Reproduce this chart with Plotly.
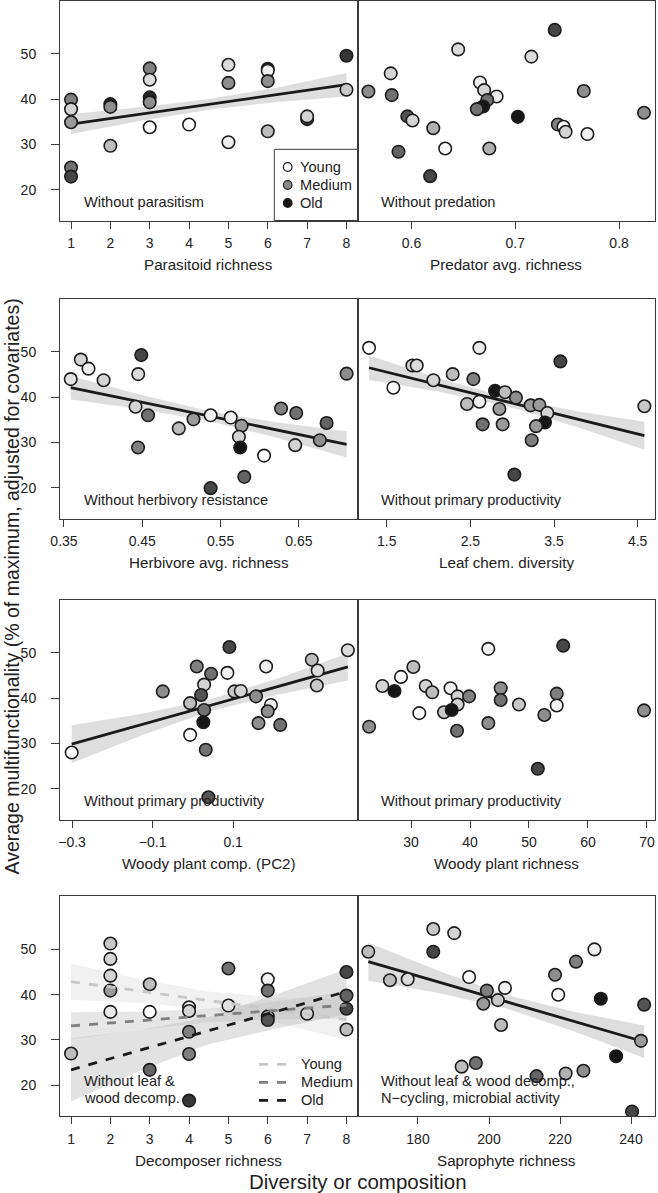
import plotly.graph_objects as go

W, H = 658, 1193

# ---------------- DATA ----------------
# Panel 1: Parasitoid richness
para_x = [1, 1, 1, 1, 1, 2, 2, 2, 3, 3, 3, 3, 3, 4, 5, 5, 5, 6, 6, 6, 6, 7, 7, 8, 8]
para_y = [39.9, 37.8, 34.9, 24.9, 22.9, 38.9, 38.3, 29.7, 46.8, 44.3, 40.4, 39.3, 33.8, 34.4,
          47.6, 43.6, 30.5, 46.7, 46.3, 44.0, 32.9, 35.6, 36.2, 49.6, 42.1]
para_age = [0.65, 0.3, 0.55, 0.7, 0.85, 0.95, 0.6, 0.4, 0.65, 0.25, 0.95, 0.6, 0.0, 0.0,
            0.25, 0.6, 0.12, 0.9, 0.1, 0.6, 0.4, 0.9, 0.3, 0.9, 0.35]
para_fit_x = [1, 8]
para_fit_y = [34.5, 43.2]
para_band_x = [1, 2.75, 4.5, 6.25, 8]
para_band_lo = [32.3, 35.2, 37.65, 39.4, 40.6]
para_band_hi = [36.7, 38.2, 40.05, 42.6, 45.8]

# Panel 2: Predator avg. richness
pred_x = [0.5585, 0.580, 0.581, 0.645, 0.596, 0.601, 0.621, 0.5875, 0.6325, 0.618, 0.675, 0.7155, 0.738,
          0.666, 0.670, 0.682, 0.673, 0.669, 0.663, 0.7025, 0.766, 0.741, 0.7465, 0.7485, 0.7695, 0.824]
pred_y = [41.7, 45.7, 40.9, 51.0, 36.2, 35.3, 33.6, 28.4, 29.1, 23.0, 29.1, 49.4, 55.3,
          43.7, 42.0, 40.6, 39.8, 38.4, 37.8, 36.1, 41.8, 34.4, 33.9, 32.8, 32.3, 37.0]
pred_age = [0.6, 0.3, 0.7, 0.25, 0.8, 0.3, 0.45, 0.75, 0.0, 0.85, 0.45, 0.25, 0.85,
            0.12, 0.3, 0.12, 0.7, 1.0, 0.7, 1.0, 0.6, 0.65, 0.0, 0.3, 0.1, 0.6]

# Panel 3: Herbivore avg. richness
herb_x = [0.3586, 0.3715, 0.3813, 0.4006, 0.4487, 0.4448, 0.4414, 0.4573, 0.4446, 0.4966, 0.5154, 0.5373,
          0.563, 0.5768, 0.5734, 0.5751, 0.6056, 0.5803, 0.5373, 0.6273, 0.6466, 0.6453, 0.6768, 0.6854, 0.711]
herb_y = [44.0, 48.3, 46.3, 43.75, 49.3, 45.1, 37.9, 36.0, 28.9, 33.1, 35.1, 36.0,
          35.5, 33.7, 31.25, 28.9, 27.1, 22.4, 19.9, 37.5, 36.5, 29.4, 30.5, 34.3, 45.2]
herb_age = [0.2, 0.3, 0.1, 0.3, 0.85, 0.25, 0.3, 0.7, 0.65, 0.4, 0.55, 0.1,
            0.1, 0.55, 0.3, 1.0, 0.0, 0.75, 0.85, 0.65, 0.7, 0.3, 0.6, 0.75, 0.6]
herb_fit_x = [0.3586, 0.711]
herb_fit_y = [42.1, 29.6]
herb_band_x = [0.3586, 0.4467, 0.5348, 0.6229, 0.711]
herb_band_lo = [39.5, 37.4, 34.75, 31.0, 26.7]
herb_band_hi = [44.7, 40.6, 36.95, 34.4, 32.5]

# Panel 4: Leaf chem. diversity
leaf_x = [1.289, 1.58, 1.807, 1.859, 2.058, 2.289, 2.608, 2.536, 2.46, 2.608, 2.795, 2.914, 2.847,
          2.647, 2.886, 3.045, 3.221, 3.325, 3.42, 3.392, 3.285, 3.233, 3.026, 3.576, 4.58]
leaf_y = [50.9, 42.1, 47.0, 47.0, 43.75, 45.1, 50.9, 44.0, 38.5, 39.0, 41.4, 41.1, 37.4,
          34.0, 34.0, 39.9, 38.2, 38.3, 36.5, 34.4, 33.6, 30.5, 22.9, 47.9, 38.0]
leaf_age = [0.0, 0.0, 0.3, 0.25, 0.3, 0.4, 0.15, 0.65, 0.4, 0.1, 1.0, 0.4, 0.55,
            0.7, 0.55, 0.6, 0.55, 0.55, 0.3, 1.0, 0.55, 0.65, 0.85, 0.85, 0.35]
leaf_fit_x = [1.289, 4.58]
leaf_fit_y = [46.5, 31.5]
leaf_band_x = [1.289, 2.112, 2.935, 3.757, 4.58]
leaf_band_lo = [43.8, 41.25, 38.0, 33.55, 28.4]
leaf_band_hi = [49.2, 44.25, 40.0, 36.95, 34.6]

# Panel 5: Woody plant comp. (PC2)
wcomp_x = [-0.301, -0.0747, 0.0098, 0.0453, 0.028, 0.0205, -0.0068, 0.028, 0.026, -0.0068, 0.032, 0.0387,
           0.0908, 0.0859, 0.1033, 0.119, 0.157, 0.182, 0.194, 0.186, 0.163, 0.217, 0.2955, 0.310, 0.308, 0.385]
wcomp_y = [28.0, 41.5, 47.0, 45.4, 43.0, 40.7, 38.9, 37.4, 34.7, 31.9, 28.6, 18.1,
           51.3, 45.6, 41.5, 41.6, 40.4, 47.0, 38.5, 37.1, 34.5, 34.1, 48.5, 46.1, 42.8, 50.6]
wcomp_age = [0.0, 0.6, 0.65, 0.7, 0.3, 0.8, 0.4, 0.7, 1.0, 0.0, 0.7, 0.8,
             0.85, 0.1, 0.35, 0.3, 0.6, 0.1, 0.1, 0.6, 0.6, 0.7, 0.4, 0.25, 0.35, 0.25]
wcomp_fit_x = [-0.301, 0.385]
wcomp_fit_y = [29.85, 46.9]
wcomp_band_x = [-0.301, -0.1295, 0.042, 0.2135, 0.385]
wcomp_band_lo = [25.7, 31.7, 37.1, 40.8, 43.9]
wcomp_band_hi = [34.0, 36.5, 39.7, 44.4, 49.9]

# Panel 6: Woody plant richness
wrich_x = [22.9, 25.15, 27.2, 28.3, 30.4, 31.4, 32.5, 33.6, 36.7, 37.9, 37.9, 39.85, 35.6,
           36.9, 37.8, 43.1, 43.1, 45.2, 45.2, 48.3, 51.5, 52.6, 54.7, 54.7, 55.8, 69.5]
wrich_y = [33.7, 42.7, 41.6, 44.7, 46.9, 36.7, 42.7, 41.3, 42.2, 40.4, 38.6, 40.4, 36.9,
           37.4, 32.8, 50.9, 34.5, 42.2, 39.6, 38.6, 24.4, 36.3, 41.0, 38.4, 51.6, 37.3]
wrich_age = [0.6, 0.3, 1.0, 0.0, 0.4, 0.0, 0.3, 0.4, 0.1, 0.3, 0.3, 0.65, 0.35,
             1.0, 0.7, 0.1, 0.6, 0.6, 0.7, 0.35, 0.85, 0.6, 0.65, 0.1, 0.85, 0.6]

# Panel 7: Decomposer richness
dec_x = [1, 2, 2, 2, 2, 2, 3, 3, 3, 4, 4, 4, 4, 4, 5, 5, 6, 6, 6, 6, 7, 8, 8, 8, 8]
dec_y = [27.0, 51.3, 47.9, 44.2, 40.9, 36.2, 42.3, 36.2, 23.4, 37.2, 36.4, 31.8, 26.9, 16.6,
         45.8, 37.6, 43.4, 40.9, 35.2, 34.4, 35.8, 45.0, 39.8, 36.9, 32.3]
dec_age = [0.4, 0.35, 0.3, 0.3, 0.55, 0.15, 0.4, 0.0, 0.75, 0.0, 0.3, 0.65, 0.65, 0.9,
           0.7, 0.2, 0.1, 0.7, 0.5, 0.8, 0.3, 0.85, 0.75, 0.85, 0.4]
dec_fit_x = [1, 8]
dec_young_fit_y = [42.9, 34.5]
dec_medium_fit_y = [33.1, 37.7]
dec_old_fit_y = [23.4, 40.7]
dec_band_x = [1, 2.75, 4.5, 6.25, 8]
dec_young_lo = [38.9, 38.2, 36.7, 33.8, 30.0]
dec_young_hi = [46.9, 43.4, 40.7, 39.4, 39.0]
dec_medium_lo = [30.1, 32.25, 33.9, 34.55, 34.7]
dec_medium_hi = [36.1, 36.25, 36.9, 38.55, 40.7]
dec_old_lo = [16.4, 23.2, 29.05, 32.6, 35.7]
dec_old_hi = [30.4, 32.2, 35.05, 40.2, 45.7]

# Panel 8: Saprophyte richness
sap_x = [166.0, 172.1, 177.1, 184.3, 184.3, 190.2, 194.4, 199.4, 198.4, 202.5, 204.5, 203.4, 218.6,
         219.5, 224.5, 229.7, 231.5, 243.7, 242.8, 235.8, 192.3, 196.3, 213.4, 221.6, 226.6, 240.3]
sap_y = [49.5, 43.2, 43.4, 54.5, 49.5, 53.6, 43.9, 40.9, 38.0, 38.8, 41.5, 33.3, 44.4,
         40.0, 47.3, 50.0, 39.1, 37.8, 29.8, 26.4, 24.1, 24.9, 22.0, 22.6, 23.2, 14.2]
sap_age = [0.4, 0.4, 0.25, 0.35, 0.85, 0.3, 0.0, 0.65, 0.55, 0.35, 0.1, 0.4, 0.6,
           0.0, 0.65, 0.1, 1.0, 0.8, 0.55, 1.0, 0.4, 0.7, 0.75, 0.45, 0.6, 0.85]
sap_fit_x = [166.0, 243.7]
sap_fit_y = [47.3, 29.6]
sap_band_x = [166.0, 185.4, 204.85, 224.3, 243.7]
sap_band_lo = [43.1, 40.4, 36.95, 31.8, 26.0]
sap_band_hi = [51.5, 45.4, 39.95, 36.2, 33.2]

# Axis ticks / titles
y_ticks = [20, 30, 40, 50]
x_titles = ["Parasitoid richness", "Predator avg. richness", "Herbivore avg. richness",
            "Leaf chem. diversity", "Woody plant comp. (PC2)", "Woody plant richness",
            "Decomposer richness", "Saprophyte richness"]
x_tickvals = [[1, 2, 3, 4, 5, 6, 7, 8], [0.6, 0.7, 0.8], [0.35, 0.45, 0.55, 0.65],
              [1.5, 2.5, 3.5, 4.5], [-0.3, -0.1, 0.1], [30, 40, 50, 60, 70],
              [1, 2, 3, 4, 5, 6, 7, 8], [180, 200, 220, 240]]
x_ticktext = [["1", "2", "3", "4", "5", "6", "7", "8"], ["0.6", "0.7", "0.8"],
              ["0.35", "0.45", "0.55", "0.65"], ["1.5", "2.5", "3.5", "4.5"],
              ["\u22120.3", "\u22120.1", "0.1"], ["30", "40", "50", "60", "70"],
              ["1", "2", "3", "4", "5", "6", "7", "8"], ["180", "200", "220", "240"]]
x_ranges = [[0.72, 8.28], [0.548, 0.8346], [0.3449, 0.7249], [1.151, 4.707],
            [-0.33, 0.409], [20.93, 71.36], [0.72, 8.28], [162.96, 246.76]]
y_range = [13.2, 61.8]
panel_notes = [["Without parasitism"], ["Without predation"], ["Without herbivory resistance"],
               ["Without primary productivity"], ["Without primary productivity"],
               ["Without primary productivity"], ["Without leaf &", "wood decomp."],
               ["Without leaf & wood decomp.,", "N\u2212cycling, microbial activity"]]
age_names = ["Young", "Medium", "Old"]

# ---------------- STYLE / LAYOUT ----------------
FONT = "Liberation Sans, Arial, Helvetica, sans-serif"
TXT = "#222222"
AX = "#3a3a3a"
grey_scale = [[0.0, "#ffffff"], [0.3, "#d4d4d4"], [0.6, "#8e8e8e"], [0.85, "#464646"], [1.0, "#161616"]]

col_px = [(60, 357.5), (357.5, 655)]
row_top = [0.5, 298.5, 599.5, 896.0]
PH = 220.0


def px(x):
    return x / W


def py(y):
    return 1 - y / H


fig = go.Figure()


def ax_name(i, a):
    return a if i == 1 else f"{a}{i}"


def add_points(i, x, y, age):
    fig.add_trace(go.Scatter(
        x=x, y=y, mode="markers", xaxis=ax_name(i, "x"), yaxis=ax_name(i, "y"),
        marker=dict(size=12.5, color=age, colorscale=grey_scale, cmin=0, cmax=1,
                    line=dict(color="#1c1c1c", width=1.6)),
        hoverinfo="skip"))


def add_band(i, bx, lo, hi, color="rgba(200,200,200,0.6)"):
    fig.add_trace(go.Scatter(
        x=list(bx) + list(bx)[::-1], y=list(hi) + list(lo)[::-1], mode="lines",
        fill="toself", fillcolor=color, line=dict(width=0), xaxis=ax_name(i, "x"),
        yaxis=ax_name(i, "y"), hoverinfo="skip"))


def add_fit(i, fx, fy, color="#1a1a1a", dash="solid", width=2.8):
    fig.add_trace(go.Scatter(
        x=fx, y=fy, mode="lines", line=dict(color=color, width=width, dash=dash),
        xaxis=ax_name(i, "x"), yaxis=ax_name(i, "y"), hoverinfo="skip"))


# Panel 1
add_band(1, para_band_x, para_band_lo, para_band_hi)
add_fit(1, para_fit_x, para_fit_y)
add_points(1, para_x, para_y, para_age)
# Panel 2
add_points(2, pred_x, pred_y, pred_age)
# Panel 3
add_band(3, herb_band_x, herb_band_lo, herb_band_hi)
add_fit(3, herb_fit_x, herb_fit_y)
add_points(3, herb_x, herb_y, herb_age)
# Panel 4
add_band(4, leaf_band_x, leaf_band_lo, leaf_band_hi)
add_fit(4, leaf_fit_x, leaf_fit_y)
add_points(4, leaf_x, leaf_y, leaf_age)
# Panel 5
add_band(5, wcomp_band_x, wcomp_band_lo, wcomp_band_hi)
add_fit(5, wcomp_fit_x, wcomp_fit_y)
add_points(5, wcomp_x, wcomp_y, wcomp_age)
# Panel 6
add_points(6, wrich_x, wrich_y, wrich_age)
# Panel 7
add_band(7, dec_band_x, dec_young_lo, dec_young_hi, "rgba(215,215,215,0.35)")
add_band(7, dec_band_x, dec_medium_lo, dec_medium_hi, "rgba(200,200,200,0.45)")
add_band(7, dec_band_x, dec_old_lo, dec_old_hi, "rgba(190,190,190,0.45)")
add_points(7, dec_x, dec_y, dec_age)
line_cols = ["#c8c8c8", "#808080", "#1a1a1a"]
add_fit(7, dec_fit_x, dec_young_fit_y, line_cols[0], "dash", 2.8)
add_fit(7, dec_fit_x, dec_medium_fit_y, line_cols[1], "dash", 2.8)
add_fit(7, dec_fit_x, dec_old_fit_y, line_cols[2], "dash", 2.8)
# Panel 8
add_band(8, sap_band_x, sap_band_lo, sap_band_hi)
add_fit(8, sap_fit_x, sap_fit_y)
add_points(8, sap_x, sap_y, sap_age)

layout = dict(width=W, height=H, margin=dict(l=0, r=0, t=0, b=0, pad=0),
              paper_bgcolor="white", plot_bgcolor="white", showlegend=False,
              font=dict(family=FONT, color=TXT, size=14))
annotations = []
shapes = []

for i in range(1, 9):
    r = (i - 1) // 2
    c = (i - 1) % 2
    x0, x1 = col_px[c]
    top = row_top[r]
    bot = top + PH
    xa = dict(domain=[px(x0), px(x1)], range=x_ranges[i - 1], anchor=ax_name(i, "y"),
              tickvals=x_tickvals[i - 1], ticktext=x_ticktext[i - 1],
              ticks="outside", ticklen=7, tickwidth=1, tickcolor=AX,
              showline=True, mirror=True, linecolor=AX, linewidth=1,
              showgrid=False, zeroline=False, ticklabelstandoff=3, automargin=False,
              tickfont=dict(family=FONT, size=14, color=TXT))
    ya = dict(domain=[py(bot), py(top)], range=y_range, anchor=ax_name(i, "x"),
              showline=True, mirror=True, linecolor=AX, linewidth=1,
              showgrid=False, zeroline=False, automargin=False)
    if c == 0:
        ya.update(tickvals=y_ticks, ticks="outside", ticklen=8, tickwidth=1, tickcolor=AX,
                  ticklabelstandoff=12, tickfont=dict(family=FONT, size=14, color=TXT))
    else:
        ya.update(showticklabels=False, ticks="")
    layout[ax_name(i, "xaxis")] = xa
    layout[ax_name(i, "yaxis")] = ya

    # x-axis title
    annotations.append(dict(text=x_titles[i - 1], x=px((x0 + x1) / 2), y=py(bot + 44),
                            xref="paper", yref="paper", showarrow=False,
                            xanchor="center", yanchor="middle",
                            font=dict(family=FONT, size=15.2, color=TXT)))
    # in-panel note
    notes = panel_notes[i - 1]
    nx = x0 + 22 if c == 0 else x0 + 21.5
    for k, line in enumerate(notes):
        yy = bot - 18.5 - 16.5 * (len(notes) - 1 - k)
        annotations.append(dict(text=line, x=px(nx), y=py(yy), xref="paper", yref="paper",
                                showarrow=False, xanchor="left", yanchor="middle",
                                font=dict(family=FONT, size=14.6, color=TXT)))

# Legend in panel 1 (point shades)
shapes.append(dict(type="rect", xref="paper", yref="paper", x0=px(274.3), x1=px(357.5),
                   y0=py(220.5), y1=py(149.3), line=dict(color=AX, width=1),
                   fillcolor="white", layer="above"))
leg_fill = ["#ffffff", "#8a8a8a", "#141414"]
for k, name in enumerate(age_names):
    cy = 167 + 18 * k
    shapes.append(dict(type="circle", xref="paper", yref="paper",
                       x0=px(287.7 - 4.3), x1=px(287.7 + 4.3), y0=py(cy + 4.3), y1=py(cy - 4.3),
                       fillcolor=leg_fill[k], line=dict(color="#1c1c1c", width=1.2), layer="above"))
    annotations.append(dict(text=name, x=px(297.5), y=py(cy), xref="paper", yref="paper",
                            showarrow=False, xanchor="left", yanchor="middle",
                            font=dict(family=FONT, size=14.6, color=TXT)))

# Legend in panel 7 (dashed lines)
for k, name in enumerate(age_names):
    cy = 1064.3 + 18 * k
    shapes.append(dict(type="line", xref="paper", yref="paper", x0=px(259), x1=px(291),
                       y0=py(cy), y1=py(cy), line=dict(color=line_cols[k], width=2.8, dash="dash")))
    annotations.append(dict(text=name, x=px(298.5), y=py(cy), xref="paper", yref="paper",
                            showarrow=False, xanchor="left", yanchor="middle",
                            font=dict(family=FONT, size=14.6, color=TXT)))

# Outer titles
annotations.append(dict(text="Diversity or composition", x=px(357.5), y=py(1181.5),
                        xref="paper", yref="paper", showarrow=False, xanchor="center",
                        yanchor="middle", font=dict(family=FONT, size=20.5, color=TXT)))
annotations.append(dict(text="Average multifunctionality (% of maximum, adjusted for covariates)",
                        x=px(12), y=py(586.5), xref="paper", yref="paper", showarrow=False,
                        textangle=-90, xanchor="center", yanchor="middle", borderpad=0,
                        font=dict(family=FONT, size=19.5, color=TXT)))

layout["annotations"] = annotations
layout["shapes"] = shapes
fig.update_layout(**layout)
fig.write_html("out.html", config={"displayModeBar": False, "staticPlot": True},
               post_script="document.body.style.margin='0px';document.body.style.overflow='hidden';")
